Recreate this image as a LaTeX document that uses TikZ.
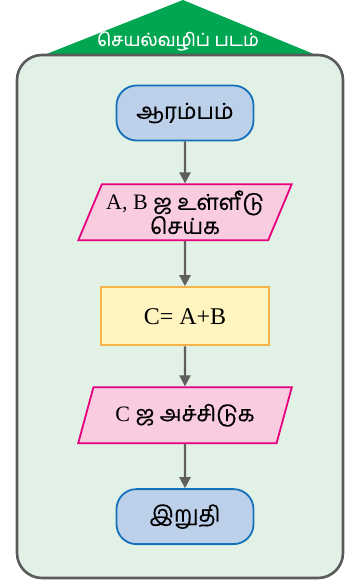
\documentclass[tikz,border=0pt]{standalone}
\usepackage{fontspec}
\setmainfont{Liberation Serif}
\newfontfamily\tamil[Script=Tamil, FakeBold=0.4]{Hind Madurai}
\usetikzlibrary{arrows.meta, positioning, shapes.geometric}
\definecolor{hdgreen}{RGB}{0,166,81}
\definecolor{panel}{RGB}{226,241,230}
\definecolor{frame}{RGB}{90,90,90}
\definecolor{termfill}{RGB}{189,208,234}
\definecolor{termline}{RGB}{20,112,187}
\definecolor{iofill}{RGB}{249,204,224}
\definecolor{ioline}{RGB}{230,0,126}
\definecolor{procfill}{RGB}{255,245,192}
\definecolor{procline}{RGB}{246,180,74}
\definecolor{arr}{RGB}{95,95,95}
\begin{document}
\begin{tikzpicture}[
  x=1pt, y=-1pt, font=\fontsize{22}{24}\selectfont, node distance=42pt,
  term/.style={draw=termline, fill=termfill, line width=1.8pt, rounded corners=20pt,
    minimum width=137pt, minimum height=55pt, font=\tamil\fontsize{22}{24}\selectfont},
  io/.style={trapezium, trapezium left angle=63, trapezium right angle=117, trapezium stretches=true,
    draw=ioline, fill=iofill, line width=1.8pt, minimum width=214pt, minimum height=56pt,
    align=center, inner sep=0pt},
  proc/.style={draw=procline, fill=procfill, line width=2.2pt, minimum width=168pt, minimum height=58pt,
    font=\fontsize{24}{26}\selectfont},
  ar/.style={-{Triangle[length=11pt, width=11pt]}, line width=2.2pt, arr},
]
\useasboundingbox (0,0) rectangle (346,582);
% heading
\fill[hdgreen] (44,55) -- (183,0) -- (316,55) -- cycle;
\node[text=white, font=\tamil\fontsize{18}{21}\selectfont] (title) at (178,41) {செயல்வழிப் படம்};
% panel
\draw[frame, fill=panel, line width=2.6pt, rounded corners=25pt] (17,55) rectangle (343,578);
% flow
\node[term] (start) at (185,113) {ஆரம்பம்};
\node[io, below=of start] (in) {A, B {\tamil ஜ உள்ளீடு}\\{\tamil செய்க}};
\node[proc, below=45pt of in] (sum) {C= A+B};
\node[io, below=40pt of sum] (out) {C {\tamil ஜ அச்சிடுக}};
\node[term, below=44pt of out] (stop) {இறுதி};
\foreach \a/\b in {start/in, in/sum, sum/out, out/stop} \draw[ar] (\a) -- (\b);
\end{tikzpicture}
\end{document}
